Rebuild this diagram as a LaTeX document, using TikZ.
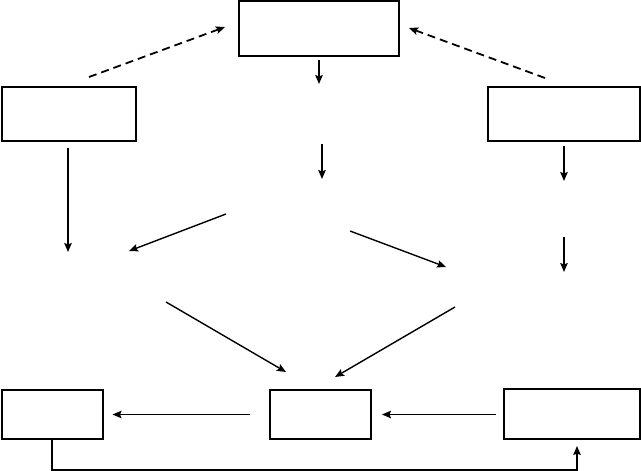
\documentclass[tikz,border=0pt]{standalone}
\usepackage{amsmath}
\usepackage{tikz}
\usetikzlibrary{arrows.meta}

\begin{document}
\begin{tikzpicture}[x=1pt, y=-1pt]
	\tikzstyle{every node} = [draw, line width=2pt, inner sep=0pt]
	\tikzstyle{flow} = [line width=1.4pt, -{Stealth[length=9pt, width=7.5pt, inset=1.5pt]}]
	\tikzstyle{hint} = [flow, line width=1.8pt, dash pattern=on 8pt off 5pt]
	\useasboundingbox (0,0) rectangle (641,471);
	\node [minimum width=160, minimum height=55] (top) at (319, 28.7) {};
	\node [minimum width=134, minimum height=54] (left) at (68.8, 114) {};
	\node [minimum width=152, minimum height=54] (right) at (564, 114) {};
	\node [minimum width=101, minimum height=49] (bl) at (52, 414.5) {};
	\node [minimum width=101, minimum height=49] (bm) at (320.5, 414.5) {};
	\node [minimum width=136, minimum height=50] (br) at (572, 414) {};
	\coordinate (a1) at (89, 77);
	\coordinate (a2) at (225, 27);
	\coordinate (b1) at (545, 78);
	\coordinate (b2) at (409, 28);
	\coordinate (c1) at (322, 144);
	\coordinate (c2) at (322, 179);
	\coordinate (d1) at (564, 146);
	\coordinate (d2) at (564, 181);
	\coordinate (d3) at (564, 237);
	\coordinate (d4) at (564, 272);
	\coordinate (e1) at (68, 148);
	\coordinate (e2) at (68, 252);
	\coordinate (f1) at (226, 214);
	\coordinate (f2) at (129, 251);
	\coordinate (g1) at (350, 231);
	\coordinate (g2) at (446, 267);
	\coordinate (h1) at (166, 302);
	\coordinate (h2) at (286, 372);
	\coordinate (k1) at (455, 307);
	\coordinate (k2) at (335, 377);
	\draw [hint] (a1)--(a2);
	\draw [hint] (b1)--(b2);
	\draw [flow, shorten <=3pt, shorten >=-1pt] (top.south)--(319, 83);
	\draw [flow] (c1)--(c2);
	\draw [flow] (d1)--(d2);
	\draw [flow] (d3)--(d4);
	\draw [flow] (e1)--(e2);
	\draw [flow] (f1)--(f2);
	\draw [flow] (g1)--(g2);
	\draw [flow] (h1)--(h2);
	\draw [flow] (k1)--(k2);
	\draw [flow, shorten <=19pt, shorten >=9pt] (bm.west)--(bl.east);
	\draw [flow, shorten <=7pt, shorten >=10pt] (br.west|-bm.west)--(bm.east);
	\draw [flow, shorten >=6pt] (bl.south)--++(0,30) -| ([xshift=5pt]br.south);
\end{tikzpicture}
\end{document}
